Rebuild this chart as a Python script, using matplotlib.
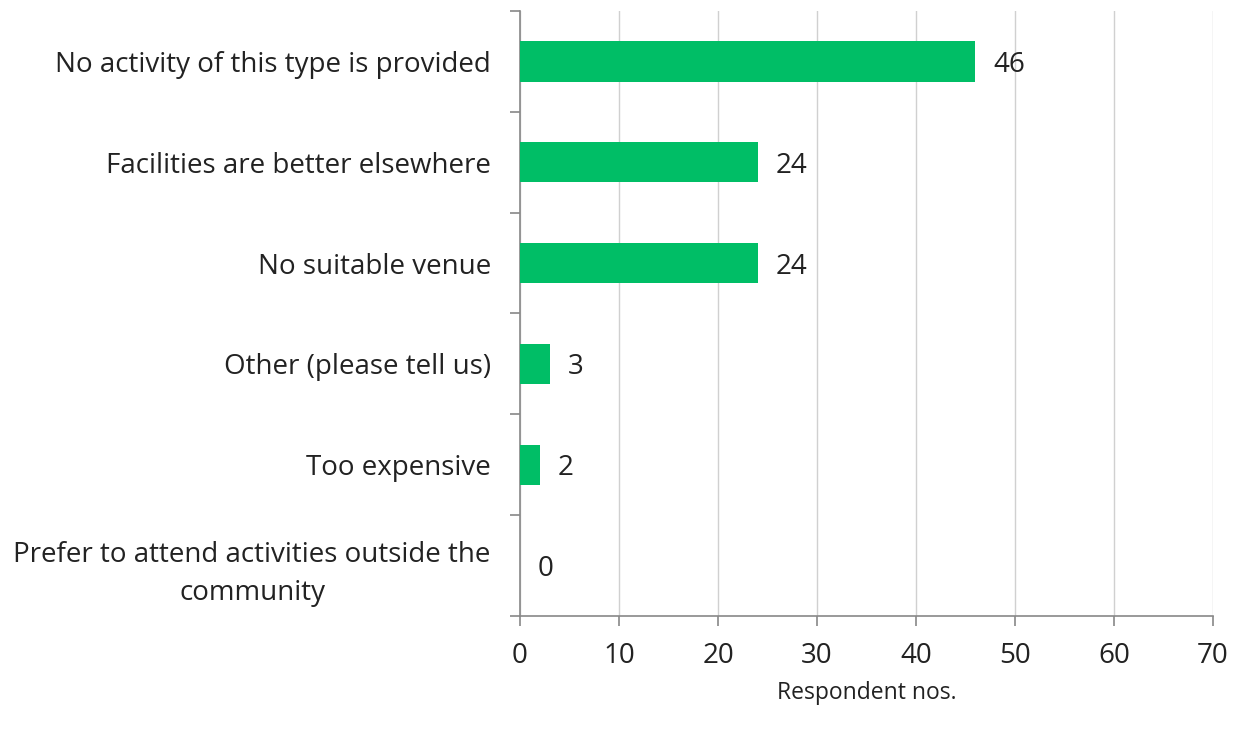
import matplotlib.pyplot as plt
import numpy as np

categories = [
    "No activity of this type is provided",
    "Facilities are better elsewhere",
    "No suitable venue",
    "Other (please tell us)",
    "Too expensive",
    "Prefer to attend activities outside the\ncommunity",
]
values = [46, 24, 24, 3, 2, 0]
xticks = [0, 10, 20, 30, 40, 50, 60, 70]

plt.rcParams['font.family'] = ['Open Sans', 'DejaVu Sans']

fig = plt.figure(figsize=(12.37, 7.34), dpi=100)
ax = fig.add_axes([0.4204, 0.1608, 0.5602, 0.8242])

y = np.arange(len(categories))
ax.barh(y, values, height=0.4, color='#00BE66', zorder=3)

for yi, v in zip(y, values):
    ax.annotate(str(v), (v, yi), xytext=(13, -2.5), textcoords='offset points',
                va='center', ha='left', fontsize=20, color='#222222')

ax.set_xlim(0, 70)
ax.set_ylim(len(categories) - 0.5, -0.5)
ax.set_xticks(xticks)
ax.set_xticklabels([str(t) for t in xticks], fontsize=20, color='#222222')

# tick marks at category boundaries, labels at centres
ax.set_yticks(np.arange(len(categories) + 1) - 0.5)
ax.set_yticklabels([])
ax.set_yticks(y, minor=True)
ax.set_yticklabels(categories, minor=True, fontsize=20, color='#222222',
                   multialignment='center', linespacing=1.45)
ax.tick_params(axis='y', which='minor', length=0, pad=21)
ax.tick_params(axis='y', which='major', length=7, color='#888888', width=1.2)
ax.tick_params(axis='x', length=7, color='#888888', width=1.2, pad=12)

ax.xaxis.grid(True, color='#d0d0d0', linewidth=1, zorder=0)
for s in ['top', 'right']:
    ax.spines[s].set_visible(False)
for s in ['left', 'bottom']:
    ax.spines[s].set_color('#888888')
    ax.spines[s].set_linewidth(1.2)

ax.set_xlabel('Respondent nos.', fontsize=16.5, color='#222222', labelpad=8)

fig.savefig('out.png', dpi=100)
